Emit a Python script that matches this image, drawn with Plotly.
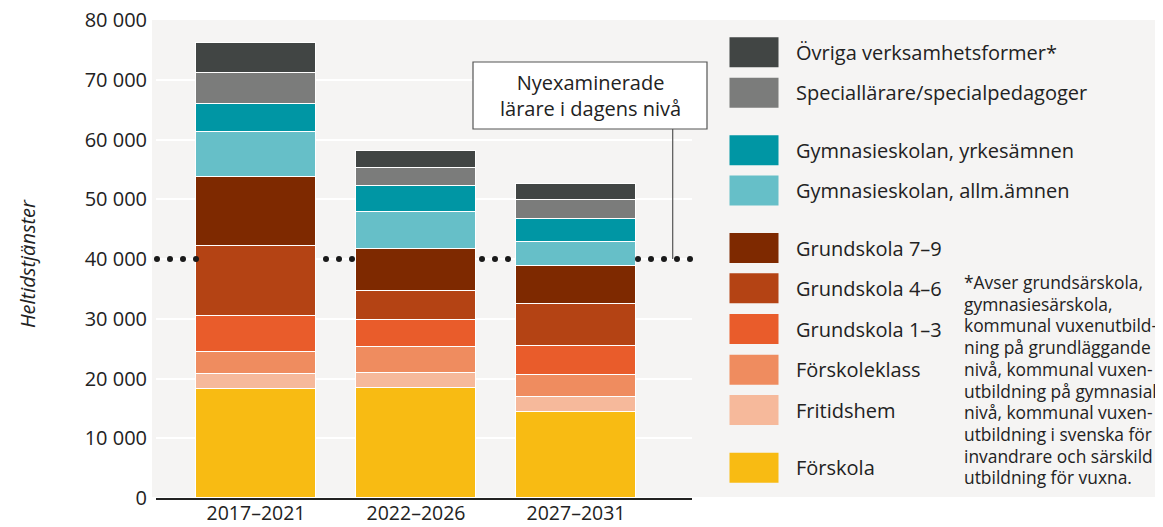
import numpy as np
import plotly.graph_objects as go

# ---------------- data ----------------
periods = ["2017–2021", "2022–2026", "2027–2031"]

# stacking order bottom -> top
categories = [
    "Förskola",
    "Fritidshem",
    "Förskoleklass",
    "Grundskola 1–3",
    "Grundskola 4–6",
    "Grundskola 7–9",
    "Gymnasieskolan, allm.ämnen",
    "Gymnasieskolan, yrkesämnen",
    "Speciallärare/specialpedagoger",
    "Övriga verksamhetsformer*",
]
forskola = [18300, 18450, 14350]
fritidshem = [2500, 2500, 2550]
forskoleklass = [3700, 4400, 3750]
grund_1_3 = [6000, 4500, 4800]
grund_4_6 = [11700, 4850, 7050]
grund_7_9 = [11550, 6900, 6250]
gymn_allm = [7550, 6250, 4150]
gymn_yrke = [4700, 4350, 3850]
speciallarare = [5200, 3100, 3100]
ovriga = [4950, 2750, 2650]
series = [forskola, fritidshem, forskoleklass, grund_1_3, grund_4_6,
          grund_7_9, gymn_allm, gymn_yrke, speciallarare, ovriga]

colors = ["#f8bb13", "#f6b99b", "#ef8c5f", "#e95c2b", "#b44314",
          "#7e2900", "#66bfc8", "#0096a4", "#7b7c7b", "#414544"]

reference_level = 40000
reference_label = "Nyexaminerade<br>lärare i dagens nivå"

ytick_vals = [0, 10000, 20000, 30000, 40000, 50000, 60000, 70000, 80000]
ytick_text = ["0", "10 000", "20 000", "30 000", "40 000", "50 000",
              "60 000", "70 000", "80 000"]

footnote_lines = [
    "*Avser grundsärskola,",
    "gymnasiesärskola,",
    "kommunal vuxenutbild-",
    "ning på grundläggande",
    "nivå, kommunal vuxen-",
    "utbildning på gymnasial",
    "nivå, kommunal vuxen-",
    "utbildning i svenska för",
    "invandrare och särskild",
    "utbildning för vuxna.",
]

# ---------------- geometry helpers (screen pixels -> paper) ----------------
OFF = 8  # page body margin
W, H = 1163 - OFF, 527 - OFF
XR = [-0.625, 2.725]
UNIT = 160.0  # pixels per category
PL = 256 + XR[0] * UNIT
PR = 256 + XR[1] * UNIT
PT, PB = 20, 498


def px(x):
    return (x - PL) / (PR - PL)


def py(y):
    return (PB - y) / (PB - PT)


FONT = "Open Sans"
TXT = "#222222"
BG = "#f5f4f3"

xpos = list(range(len(periods)))
bar_w = 0.75

fig = go.Figure()

# dotted reference line (visible only between bars)
x_lo = (157 - 256) / UNIT
dots = x_lo + np.arange(42) * (13.0 / UNIT)


def between_bars(d):
    k = round(d)
    if k < 0 or k > 2:
        return True
    return abs(d - k) >= bar_w / 2 - 1e-9


dots = [d for d in dots if between_bars(d)]
fig.add_trace(go.Scatter(
    x=dots, y=[reference_level] * len(dots), mode="markers",
    marker=dict(size=6, color="#1a1a1a"), hoverinfo="skip",
    showlegend=False, cliponaxis=False))

for name, vals, col in zip(categories, series, colors):
    fig.add_trace(go.Bar(
        x=xpos, y=vals, name=name, width=bar_w,
        marker=dict(color=col, line=dict(color="white", width=1.2)),
        showlegend=False))

shapes = []
annotations = []

# grey panel background
shapes.append(dict(type="rect", xref="paper", yref="paper",
                   x0=px(152), x1=px(1175), y0=py(497), y1=py(20),
                   fillcolor=BG, line=dict(width=0), layer="below"))

# custom legend (top -> bottom order)
legend_y = [52.2, 92.7, 150.2, 190.5, 248, 288.3, 329, 369.7, 410, 467.7]
for (name, col), yc in zip(list(zip(categories, colors))[::-1], legend_y):
    shapes.append(dict(type="rect", xref="paper", yref="paper",
                       x0=px(729.5), x1=px(778.5), y0=py(yc + 15), y1=py(yc - 15),
                       fillcolor=col, line=dict(width=0)))
    annotations.append(dict(text=name, xref="paper", yref="paper",
                            x=px(794), y=py(yc), xanchor="left", yanchor="middle",
                            showarrow=False, font=dict(size=20, color=TXT, family=FONT)))

# annotation box + leader line
shapes.append(dict(type="line", xref="paper", yref="paper",
                   x0=px(672.7), x1=px(672.7), y0=py(129), y1=py(259),
                   line=dict(color="#555555", width=1.2)))
shapes.append(dict(type="rect", xref="paper", yref="paper",
                   x0=px(473), x1=px(707), y0=py(129), y1=py(62),
                   fillcolor="white", line=dict(color="#555555", width=1.2)))
annotations.append(dict(text=reference_label, xref="paper", yref="paper",
                        x=px(590), y=py(95), xanchor="center", yanchor="middle",
                        showarrow=False, align="center",
                        font=dict(size=20, color=TXT, family=FONT)))

# footnote, one annotation per line for exact line spacing
for i, line in enumerate(footnote_lines):
    annotations.append(dict(text=line, xref="paper", yref="paper",
                            x=px(962), y=py(282 + i * 21.7), xanchor="left",
                            yanchor="middle", showarrow=False, align="left",
                            font=dict(size=17.4, color=TXT, family=FONT)))

# y-axis title
annotations.append(dict(text="<i>Heltidstjänster</i>", xref="paper", yref="paper",
                        x=px(27), y=py(264), xanchor="center", yanchor="middle",
                        textangle=-90, showarrow=False,
                        font=dict(size=20, color=TXT, family=FONT)))

fig.update_layout(
    width=W, height=H,
    margin=dict(l=PL - OFF, r=(W + OFF) - PR, t=PT - OFF, b=(H + OFF) - PB),
    paper_bgcolor="white", plot_bgcolor="rgba(0,0,0,0)",
    barmode="stack", bargap=0,
    font=dict(family=FONT, color=TXT, size=20),
    shapes=shapes, annotations=annotations,
    xaxis=dict(range=XR, tickvals=xpos, ticktext=periods,
               showgrid=False, zeroline=False, showline=True, automargin=False,
               linecolor="#222222", linewidth=1.5, ticks="",
               ticklabelstandoff=-3,
               tickfont=dict(size=19.5, color=TXT, family=FONT), fixedrange=True),
    yaxis=dict(range=[0, 80000], tickvals=ytick_vals, ticktext=ytick_text,
               showgrid=True, gridcolor="white", gridwidth=1.5, automargin=False,
               zeroline=False, showline=False, ticks="",
               ticklabelstandoff=8, ticklabeloverflow="allow",
               tickfont=dict(size=20, color=TXT, family=FONT), fixedrange=True),
)

fig.write_html("out.html")
